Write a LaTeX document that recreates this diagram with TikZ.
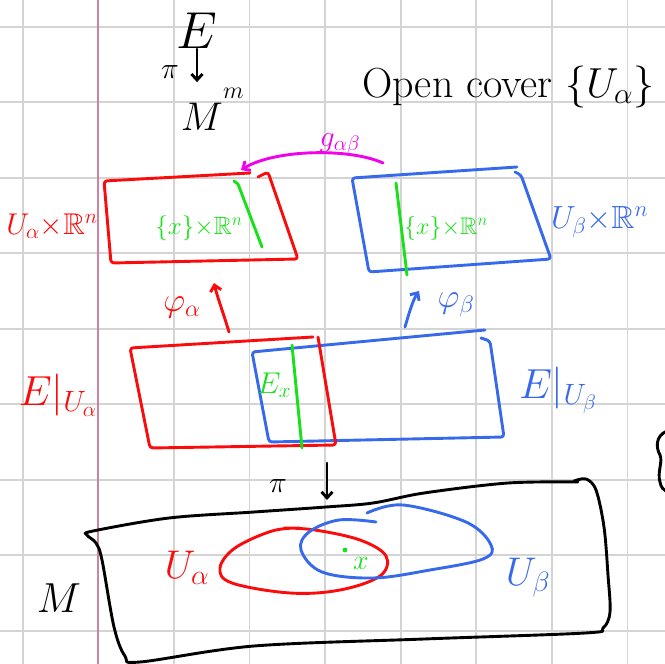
\RequirePackage{fix-cm}
\documentclass[tikz,border=0pt]{standalone}
\usepackage{amssymb}
\usetikzlibrary{arrows.meta}
\definecolor{sred}{RGB}{250,12,12}
\definecolor{sblue}{RGB}{55,105,235}
\definecolor{sgreen}{RGB}{25,225,25}
\definecolor{smag}{RGB}{240,0,235}
\definecolor{sgrid}{RGB}{212,212,212}
\definecolor{smargin}{RGB}{205,130,160}
\newcommand\fsz[1]{\fontsize{#1}{#1}\selectfont}
\begin{document}
\begin{tikzpicture}[x=1pt,y=-1pt,
  ink/.style={line width=2.9pt,line cap=round,line join=round},
  lbl/.style={inner sep=0pt},
  sz/.style={font=\fsz{#1}},
  tip/.style={-{Straight Barb[length=6pt,width=11pt]}},
  gridline/.style={sgrid,line width=1.7pt},
  rc/.style={rounded corners=3pt}]
\useasboundingbox (0,0) rectangle (665,664);
\fill[white] (0,0) rectangle (665,664);
\begin{scope}
\clip (0,0) rectangle (665,664);
% paper grid
\foreach \k in {0,2,3,4,5,6,7,8} \draw[gridline] ({22.7+75.6*\k},0) -- ({22.7+75.6*\k},664);
\foreach \k in {0,...,8} \draw[gridline] (0,{26.7+75.5*\k}) -- (665,{26.7+75.5*\k});
\draw[smargin,line width=1.7pt] (98.3,0) -- (98.3,664);

% E -> M^m
\node[lbl,sz=52] (E) at (197,31) {$E$};
\node[lbl,sz=30] (pi1) at (170,72) {$\pi$};
\node[lbl,sz=40] (M1) at (202,117) {$M$};
\node[lbl,sz=24,anchor=west] (m1) at (223,93) {$m$};
\draw[ink,tip,shorten >=21pt] (E.south) -- (E.south |- M1.north);

% open cover
\node[lbl,sz=42,anchor=base west] (oc) at (362,97) {Open cover $\{U_\alpha\}$};

% transition function
\node[lbl,sz=30,text=smag] (g) at (340,144) {$g_{\alpha\beta}$};
\coordinate (gs) at (383,163);
\coordinate (ge) at (241,170);
\draw[ink,smag,tip] (gs) .. controls (350,148) and (275,149) .. (ge);

% top red rectangle U_alpha x R^n
\draw[ink,sred,rc] (250,173) -- (104,181) -- (111,263) -- (298,259) -- (268,172) -- (258,177);
\draw[ink,sgreen] (234,181) -- (238,184) -- (262,247);
\node[lbl,sz=30,text=sred] (ua1) at (52,226) {$U_\alpha{\times}\mathbb{R}^n$};
\node[lbl,sz=25,text=sgreen] (f1) at (199,228) {$\{x\}{\times}\mathbb{R}^n$};

% top blue rectangle U_beta x R^n
\draw[ink,sblue,rc] (517,167) -- (352,178) -- (369,272) -- (551,259) -- (521,175) -- (515,172);
\draw[ink,sgreen] (396,183) -- (407,275);
\node[lbl,sz=24,text=sgreen] (f2) at (446,228) {$\{x\}{\times}\mathbb{R}^n$};
\node[lbl,sz=32,text=sblue,anchor=west] (ub1) at (551,222) {$U_\beta{\times}\mathbb{R}^n$};

% trivialisations
\node[lbl,sz=34,text=sred] (pa) at (182,307) {$\varphi_\alpha$};
\coordinate (pas) at (229,332);
\coordinate (pae) at (214,283);
\draw[ink,sred,tip] (pas) .. controls (223,312) and (217,296) .. (pae);
\node[lbl,sz=34,text=sblue] (pb) at (456,305) {$\varphi_\beta$};
\coordinate (pbs) at (405,327);
\coordinate (pbe) at (419,291);
\draw[ink,sblue,tip] (pbs) .. controls (410,310) and (413,300) .. (pbe);

% middle rectangles E|U
\draw[ink,sblue,rc] (485,330) -- (252,352) -- (269,442) -- (504,437) -- (490,341) -- (481,338);
\draw[ink,sred,rc] (313,337) -- (130,348) -- (150,448) -- (336,445) -- (318,337);
\draw[ink,sgreen] (292,345) -- (302,448);
\node[lbl,sz=30,text=sgreen] (ex) at (274,385) {$E_x$};
\node[lbl,sz=42,text=sred] (eua) at (58,395) {$E|_{U_\alpha}$};
\node[lbl,sz=42,text=sblue] (eub) at (558,390) {$E|_{U_\beta}$};

% partial brace at the right edge
\draw[ink] (667,431) .. controls (655,436) and (656,448) .. (660,455)
  .. controls (663,462) and (657,472) .. (660,482) .. controls (661,488) and (664,490) .. (667,492);

% projection
\node[lbl,sz=30] (pi2) at (278,486) {$\pi$};
\coordinate (ps) at (327,463);
\coordinate (pe) at (327,500);
\draw[ink,tip] (ps) -- (pe);

% base manifold M
\draw[ink] plot[smooth,tension=0.55] coordinates {(574,481) (586,479) (596,490) (604,527) (608,575) (610,612) (603,628) (585,633) (424,639) (254,646) (140,662) (125,656) (114,627) (102,560) (96,543) (87,535) (93,531) (169,518) (254,512) (326,507) (373,503) (424,493) (508,483) (578,482)};
\node[lbl,sz=42] (M2) at (59,598) {$M$};

% U_alpha
\draw[ink,sred] plot[smooth,tension=0.6] coordinates {(284,528) (315,530) (360,540) (386,556) (380,576) (340,590) (290,593) (232,583) (220,568) (235,548) (272,531) (300,528)};
\node[lbl,sz=40,text=sred] (ua2) at (187,568) {$U_\alpha$};

% U_beta
\draw[ink,sblue] plot[smooth,tension=0.6] coordinates {(376,522) (339,520) (309,532) (301,550) (322,572) (373,578) (430,570) (483,559) (491,545) (466,522) (403,505) (367,513)};
\node[lbl,sz=40,text=sblue] (ub2) at (528,578) {$U_\beta$};

% point x
\fill[sgreen] (345,550) circle (2.4pt);
\node[lbl,sz=28,text=sgreen] (xp) at (361,563) {$x$};
\end{scope}
\end{tikzpicture}
\end{document}
